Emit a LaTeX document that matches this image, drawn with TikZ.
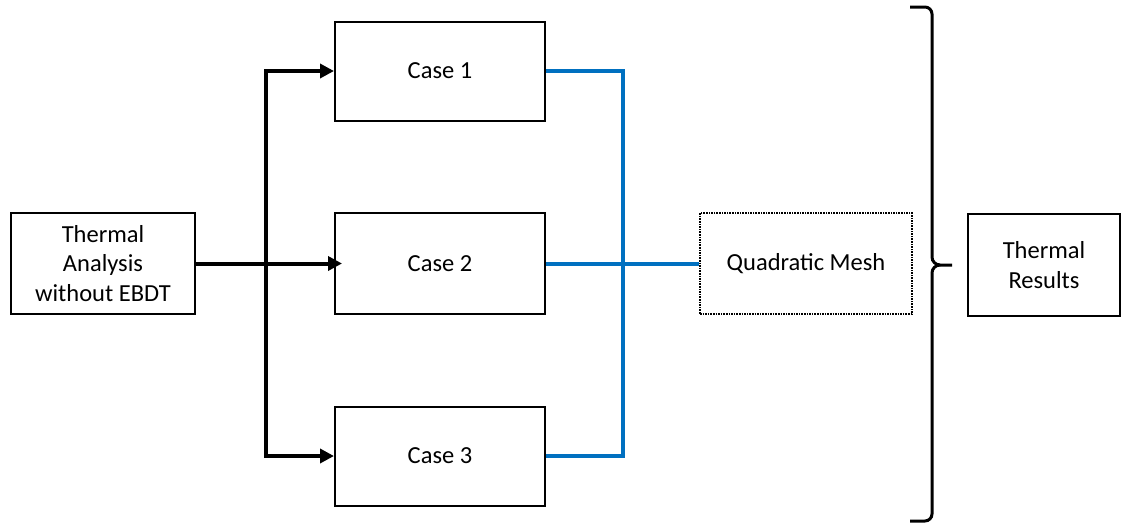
\documentclass[tikz,border=0pt]{standalone}
\usepackage{fontspec}
\setmainfont{Carlito}
\usetikzlibrary{arrows.meta}
\definecolor{busblue}{RGB}{0,112,192}
\begin{document}
\begin{tikzpicture}[x=1pt,y=-1pt,
  every node/.style={font=\fontsize{24.5}{29.5}\selectfont, align=center, inner sep=0pt},
  box/.style={draw, line width=2pt, minimum width=#1},
  arr/.style={line width=4pt, -{Triangle[length=14pt,width=14pt]}},
  bus/.style={draw=busblue, line width=4pt},
  bracket/.style={line width=3pt}]
\useasboundingbox (0,0) rectangle (1128,523);

% input, cases, mesh and results boxes
\node[box=184, minimum height=101] (src) at (103,263.5) {Thermal\\Analysis\\without EBDT};
\node[box=210, minimum height=99] (c1) at (440,71) {Case 1};
\node[box=210, minimum height=101] (c2) at (440,263.5) {Case 2};
\node[box=210, minimum height=99] (c3) at (440,456) {Case 3};
\node[draw, densely dotted, line width=1.6pt, minimum width=212, minimum height=101] (qm) at (806,263.5) {Quadratic Mesh};
\node[box=152, minimum height=102] (res) at (1044,265) {Thermal\\Results};

% black split arrows into the three cases
\coordinate (split) at (266,263.5);
\draw[arr, shorten >=-8pt] (src.east) -- (c2.west);
\draw[arr, line cap=rect] (split) |- (c1.west);
\draw[arr, line cap=rect] (split) |- (c3.west);

% blue collector into the mesh box
\coordinate (merge) at (623,263.5);
\draw[bus] (c1.east) -| (merge) |- (c3.east);
\draw[bus] (c2.east) -- (qm.west);

% closing brace
\draw[bracket] (910,7) -- (925,7) to[out=0,in=90] (932,14) -- (932,257)
  to[out=-90,in=180] (940,265) -- (952,265);
\draw[bracket] (940,265) to[out=180,in=90] (932,273) -- (932,514)
  to[out=-90,in=0] (925,521) -- (910,521);
\end{tikzpicture}
\end{document}
